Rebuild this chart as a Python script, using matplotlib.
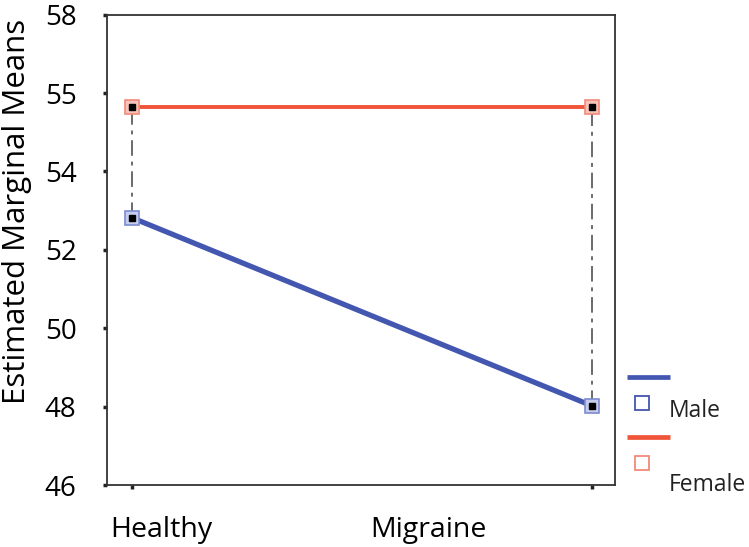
import matplotlib
matplotlib.use("Agg")
import matplotlib.pyplot as plt
from matplotlib.lines import Line2D
from matplotlib.transforms import ScaledTranslation

categories = ["Healthy", "Migraine"]
male = [52.82, 48.02]
female = [55.64, 55.64]
yticks = [46, 48, 50, 52, 54, 56, 58]
ytick_labels = ["46", "48", "50", "52", "54", "55", "58"]
series_names = ["Male", "Female"]

FONT = ["Open Sans", "DejaVu Sans"]
plt.rcParams['font.family'] = FONT

BLUE = "#4356B0"
RED = "#F0553A"
BLUE_LIGHT = "#7D8BD0"
RED_LIGHT = "#F28A7A"

fig = plt.figure(figsize=(7.49, 5.47), dpi=100)
W, H = 749, 547
ax = fig.add_axes([107 / W, 1 - 485 / H, (615 - 107) / W, (485 - 14.6) / H])

x = list(range(len(categories)))

# dash-dot connectors
for xi, m, f in zip(x, male, female):
    ax.plot([xi, xi], [m, f], color="#6a6a6a", lw=1.4, linestyle=(0, (8, 3, 2, 3)), zorder=2)

ax.plot(x, female, color=RED, lw=2.8, zorder=3, solid_capstyle="butt")
ax.plot(x, male, color=BLUE, lw=3.8, zorder=3, solid_capstyle="butt")

ax.plot(x, female, linestyle="none", marker="s", markersize=10, markerfacecolor="#f6c3bb",
        markeredgecolor=RED_LIGHT, markeredgewidth=1.2, zorder=4)
ax.plot(x, male, linestyle="none", marker="s", markersize=10, markerfacecolor="#c5ccec",
        markeredgecolor=BLUE_LIGHT, markeredgewidth=1.2, zorder=4)
ax.plot(x, female, linestyle="none", marker="s", markersize=4.8, color="black", zorder=5)
ax.plot(x, male, linestyle="none", marker="s", markersize=4.8, color="black", zorder=5)

ax.set_xlim(-0.0537, 1.050)
ax.set_ylim(46, 58)
ax.set_yticks(yticks)
ax.set_yticklabels(ytick_labels, fontsize=20)
ax.set_xticks(x)
ax.set_xticklabels(categories, fontsize=20.5)

for s in ax.spines.values():
    s.set_color("#333333")
    s.set_linewidth(1.3)

ax.tick_params(axis="y", length=3, width=2.5, color="#222222", pad=19)
ax.tick_params(axis="x", length=3, width=2.5, color="#222222", pad=19)

offsets = [30, -164]
for lab, dx in zip(ax.get_xticklabels(), offsets):
    lab.set_transform(lab.get_transform() + ScaledTranslation(dx / 100, 0, fig.dpi_scale_trans))

fig.text(17 / W, 1 - 211 / H, "Estimated Marginal Means", rotation=90, ha="center", va="center",
         fontsize=22.5)

# legend (manual, outside axes)
def fx(px):
    return px / W

def fy(py):
    return 1 - py / H

for name, col, edge, ly, sy, ty in [(series_names[0], BLUE, BLUE, 377, 403, 411),
                                    (series_names[1], RED, RED_LIGHT, 437, 463, 485)]:
    fig.add_artist(Line2D([fx(627), fx(670)], [fy(ly), fy(ly)], color=col, lw=3.4,
                          transform=fig.transFigure, solid_capstyle="butt"))
    fig.add_artist(Line2D([fx(642)], [fy(sy)], marker="s", markersize=10, markerfacecolor="white",
                          markeredgecolor=edge, markeredgewidth=1.3, linestyle="none",
                          transform=fig.transFigure))
    fig.text(fx(669), fy(ty), name, ha="left", va="center", fontsize=16.5, color="#222222")

fig.savefig("out.png", dpi=100)
